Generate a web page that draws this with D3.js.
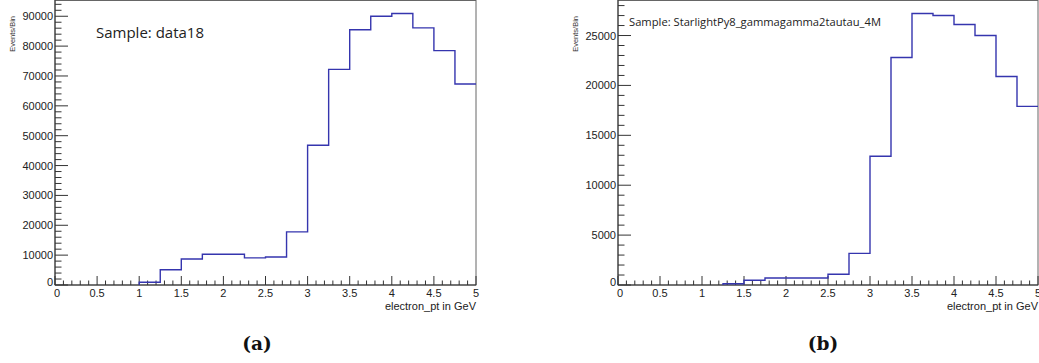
<!DOCTYPE html>
<html><head><meta charset="utf-8">
<script src="https://cdn.jsdelivr.net/npm/d3@7"></script>
<style>body{margin:0;background:#fff}svg{display:block}</style>
</head><body>
<svg id="c" width="1039" height="363"></svg>
<script>
// ---- data ----
const binEdges = d3.range(0, 5.0001, 0.25);           // 21 edges, 20 bins
const valuesA = [0,0,0,0,900,5100,8700,10300,10300,9100,9400,17800,46800,72200,85500,90000,90900,86100,78500,67300];
const valuesB = [0,0,0,0,0,130,470,700,700,700,1070,3170,12900,22800,27200,27000,26100,25000,20900,17900];
const xTickLabels = [0,0.5,1,1.5,2,2.5,3,3.5,4,4.5,5];
const yTicksA = [0,10000,20000,30000,40000,50000,60000,70000,80000,90000];
const yTicksB = [0,5000,10000,15000,20000,25000];
const sampleA = "Sample: data18";
const sampleB = "Sample: StarlightPy8_gammagamma2tautau_4M";
const xTitle = "electron_pt in GeV";
const yTitle = "Events/Bin";
const captions = ["(a)", "(b)"];

const svg = d3.select("#c");

function panel(cfg) {
  const g = svg.append("g");
  const x = d3.scaleLinear().domain([0,5]).range([cfg.left, cfg.right]);
  const yMax = d3.max(cfg.values) * 1.05;
  const y = d3.scaleLinear().domain([0, yMax]).range([cfg.bottom, cfg.top]);

  // frame
  g.append("rect").attr("x", cfg.left).attr("y", cfg.top+0.5)
    .attr("width", cfg.right - cfg.left).attr("height", cfg.bottom - cfg.top - 0.5)
    .attr("fill", "none").attr("stroke", "#666").attr("stroke-width", 1);

  // x axis ticks
  const xMinor = d3.range(0, 5.0001, 0.1);
  g.selectAll(".xm").data(xMinor).join("line")
    .attr("x1", d => x(d)).attr("x2", d => x(d))
    .attr("y1", cfg.bottom).attr("y2", d => cfg.bottom - (Math.abs(d*2 - Math.round(d*2)) < 1e-6 ? 9 : 4.5))
    .attr("stroke", "#333").attr("stroke-width", 1);
  g.selectAll(".xl").data(xTickLabels).join("text")
    .attr("x", d => x(d) + (d === 0 ? 2 : 0)).attr("y", cfg.bottom + 12)
    .attr("text-anchor", "middle")
    .attr("font-family", "Liberation Sans, Arial, sans-serif").attr("font-size", 11)
    .attr("fill", "#222").text(d => d);

  // y axis ticks
  const yMinor = d3.range(0, yMax, cfg.yMinorStep);
  g.selectAll(".ym").data(yMinor).join("line")
    .attr("x1", cfg.left).attr("x2", d => cfg.left + (d % cfg.yMajorStep === 0 ? 13 : 6.5))
    .attr("y1", d => y(d)).attr("y2", d => y(d))
    .attr("stroke", "#333").attr("stroke-width", 1);
  g.selectAll(".yl").data(cfg.yTicks).join("text")
    .attr("x", cfg.left - 2).attr("y", d => y(d) + (d === 0 ? 1 : 4))
    .attr("text-anchor", "end")
    .attr("font-family", "Liberation Sans, Arial, sans-serif").attr("font-size", 11)
    .attr("fill", "#222").text(d => d);

  // axis lines
  g.append("line").attr("x1", cfg.left).attr("x2", cfg.right).attr("y1", cfg.bottom).attr("y2", cfg.bottom)
    .attr("stroke", "#333");
  g.append("line").attr("x1", cfg.left).attr("x2", cfg.left).attr("y1", cfg.top).attr("y2", cfg.bottom)
    .attr("stroke", "#333");

  // histogram
  const first = cfg.values.findIndex(v => v > 0);
  const pts = [[binEdges[first], 0]];
  for (let i = first; i < cfg.values.length; i++) pts.push([binEdges[i], cfg.values[i]]);
  pts.push([binEdges[binEdges.length-1], cfg.values[cfg.values.length-1]]);
  const line = d3.line().x(d => x(d[0])).y(d => y(d[1])).curve(d3.curveStepAfter);
  g.append("path").attr("d", line(pts)).attr("fill", "none")
    .attr("stroke", "#3535ae").attr("stroke-width", 1.4);

  // titles
  g.append("text").attr("x", cfg.right).attr("y", cfg.bottom + 25)
    .attr("text-anchor", "end")
    .attr("font-family", "Liberation Sans, Arial, sans-serif").attr("font-size", 11)
    .attr("fill", "#222").text(xTitle);
  g.append("text").attr("transform", `translate(${cfg.yTitleX},${cfg.top + 16}) rotate(-90)`)
    .attr("text-anchor", "end")
    .attr("font-family", "Liberation Sans, Arial, sans-serif").attr("font-size", 7.5)
    .attr("fill", "#333").text(yTitle);

  // sample label
  g.append("text").attr("x", cfg.sx).attr("y", cfg.sy)
    .attr("font-family", "Open Sans, Carlito, sans-serif").attr("font-size", cfg.sSize)
    .attr("fill", "#222").text(cfg.sample);

  // caption
  g.append("text").attr("x", cfg.capX).attr("y", 350)
    .attr("text-anchor", "middle")
    .attr("font-family", "DejaVu Serif, Liberation Serif, serif").attr("font-weight", "bold")
    .attr("font-size", 18.5).attr("fill", "#111").text(cfg.caption);
}

panel({left: 55, right: 476, top: 0, bottom: 285, values: valuesA, yTicks: yTicksA,
  yMajorStep: 10000, yMinorStep: 2000, yTitleX: 15, sample: sampleA, sx: 96, sy: 38, sSize: 15,
  caption: captions[0], capX: 257});
panel({left: 618, right: 1038, top: 0, bottom: 285, values: valuesB, yTicks: yTicksB,
  yMajorStep: 5000, yMinorStep: 1000, yTitleX: 578, sample: sampleB, sx: 629, sy: 26, sSize: 11.2,
  caption: captions[1], capX: 823});
</script>
</body></html>
